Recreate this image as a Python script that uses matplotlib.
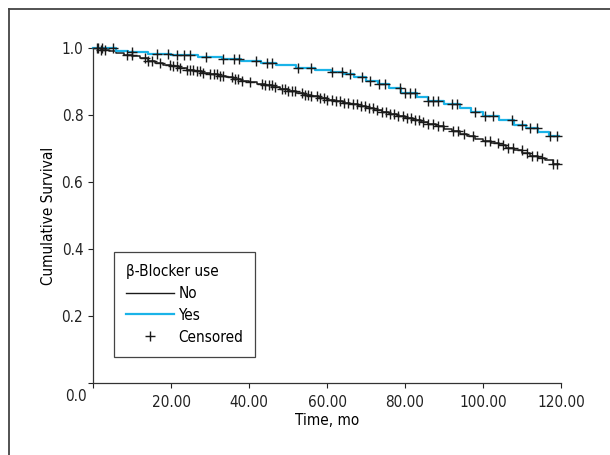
import numpy as np
import matplotlib.pyplot as plt
from matplotlib.lines import Line2D

plt.rcParams['font.family'] = ['Liberation Sans Narrow', 'DejaVu Sans']
plt.rcParams['font.stretch'] = 'condensed'

# Kaplan-Meier steps (time in months, survival after the step)
no_times = [2, 4, 6, 8, 10, 12, 14, 16, 18, 20, 22, 24, 26, 28, 30, 32, 34, 36, 38, 40,
            42, 44, 46, 48, 50, 52, 54, 56, 58, 60, 62, 64, 66, 68, 70, 72, 74, 76, 78, 80,
            82, 84, 86, 88, 90, 92, 94, 96, 98, 100, 102, 104, 106, 108, 110, 112, 114,
            116, 118]
no_surv = [0.995, 0.990, 0.985, 0.980, 0.975, 0.969, 0.962, 0.955, 0.950, 0.945,
           0.940, 0.935, 0.930, 0.926, 0.921, 0.916, 0.912, 0.907, 0.902, 0.898,
           0.893, 0.889, 0.884, 0.879, 0.873, 0.866, 0.861, 0.856, 0.851, 0.846,
           0.841, 0.837, 0.832, 0.826, 0.821, 0.815, 0.809, 0.802, 0.796, 0.791,
           0.785, 0.779, 0.773, 0.766, 0.759, 0.752, 0.744, 0.736, 0.729, 0.722,
           0.715, 0.709, 0.702, 0.695, 0.688, 0.679, 0.672, 0.665, 0.655]
no_censored = [0.9, 2.0, 3.1, 8.6, 9.9, 13.3, 14.2, 15.0, 17.2, 19.7, 20.6, 21.5, 22.3,
               24.0, 24.9, 25.7, 26.6, 27.4, 28.3, 30.0, 30.9, 31.7, 32.6, 33.4, 35.6,
               36.5, 37.3, 38.1, 40.3, 43.2, 44.1, 45.0, 45.8, 46.7, 48.4, 49.2, 50.1,
               50.9, 51.8, 53.5, 54.3, 55.2, 56.0, 57.4, 58.3, 59.1, 60.0, 61.2, 62.3,
               63.3, 64.4, 65.5, 66.6, 67.6, 68.6, 69.7, 70.8, 71.9, 72.9, 74.0, 75.1,
               76.2, 77.2, 78.3, 79.4, 80.4, 81.5, 82.6, 83.7, 84.7, 86.0, 87.3, 88.5,
               89.8, 92.4, 93.7, 95.0, 97.5, 100.5, 101.8, 103.9, 105.2, 106.5, 107.8,
               109.9, 111.2, 112.5, 113.8, 115.0, 118.0, 118.9]

yes_times = [6, 9, 14, 20, 27, 33, 38, 43, 47, 52, 57, 61, 64, 67, 70, 73, 76, 79, 83,
             86, 90, 94, 97, 100, 104, 108, 111, 114, 117]
yes_surv = [0.992, 0.987, 0.982, 0.978, 0.972, 0.968, 0.962, 0.955, 0.948, 0.941,
            0.935, 0.929, 0.922, 0.912, 0.902, 0.892, 0.880, 0.867, 0.853, 0.843,
            0.832, 0.820, 0.808, 0.796, 0.784, 0.771, 0.760, 0.748, 0.736]
yes_censored = [1.4, 2.2, 5.0, 9.9, 16.3, 19.3, 21.5, 23.2, 24.9, 29.0, 33.4, 36.1, 37.5,
                41.9, 44.5, 45.8, 52.6, 56.0, 61.2, 63.8, 65.9, 68.9, 71.0, 73.2, 74.9,
                78.7, 80.0, 81.3, 82.6, 86.0, 87.3, 88.5, 92.0, 93.3, 98.0, 100.5,
                102.6, 107.4, 110.0, 112.0, 113.8, 117.2, 118.9]

x_ticks = [0, 20, 40, 60, 80, 100, 120]
x_labels = ['', '20.00', '40.00', '60.00', '80.00', '100.00', '120.00']
y_ticks = [0.0, 0.2, 0.4, 0.6, 0.8, 1.0]
y_labels = ['', '0.2', '0.4', '0.6', '0.8', '1.0']

black = '#1a1a1a'
blue = '#1ab3e8'
fs = 11


def km_curve(times, surv, end):
    t = np.concatenate([[0], times, [end]])
    s = np.concatenate([[1.0], surv, [surv[-1]]])
    return t, s


def surv_at(times, surv, c):
    idx = np.searchsorted(times, c, side='right') - 1
    s = np.concatenate([[1.0], surv])
    return s[np.asarray(idx) + 1]


fig = plt.figure(figsize=(6.1, 4.55), dpi=100)
ax = fig.add_axes([0.1525, 0.1582, 0.7672, 0.7363])

t, s = km_curve(no_times, no_surv, 119.5)
ax.step(t, s, where='post', color=black, lw=1.1, clip_on=False)
t, s = km_curve(yes_times, yes_surv, 119.5)
ax.step(t, s, where='post', color=blue, lw=1.6, clip_on=False)

ax.plot(no_censored, surv_at(no_times, no_surv, no_censored), ls='none', marker='+',
        ms=7.5, mew=1.0, color=black, clip_on=False)
ax.plot(yes_censored, surv_at(yes_times, yes_surv, yes_censored), ls='none', marker='+',
        ms=7.5, mew=1.0, color=black, clip_on=False)

ax.set_xlim(0, 120)
ax.set_ylim(0, 1.0)
ax.set_xticks(x_ticks)
ax.set_xticklabels(x_labels)
ax.set_yticks(y_ticks)
ax.set_yticklabels(y_labels)
ax.text(-4.5, -0.04, '0.0', ha='center', va='center', fontsize=fs, color='#222222')
ax.tick_params(direction='out', length=3.5, width=0.8, labelsize=fs, colors='#222222')
ax.tick_params(axis='x', pad=5)
for side in ['top', 'right']:
    ax.spines[side].set_visible(False)
for side in ['left', 'bottom']:
    ax.spines[side].set_color('#333333')
    ax.spines[side].set_linewidth(0.9)

ax.set_xlabel('Time, mo', fontsize=fs, labelpad=2)
ax.set_ylabel('Cumulative Survival', fontsize=fs, labelpad=4)

handles = [Line2D([], [], color=black, lw=1.0),
           Line2D([], [], color=blue, lw=1.6),
           Line2D([], [], ls='none', marker='+', ms=7.5, mew=1.0, color=black)]
leg = ax.legend(handles, ['No', 'Yes', 'Censored'], title='\u03b2-Blocker use',
                loc='lower left', bbox_to_anchor=(0.045, 0.078), borderaxespad=0,
                fontsize=fs, title_fontsize=fs, handlelength=3.1, handletextpad=0.3,
                labelspacing=0.45, borderpad=0.8, fancybox=False, framealpha=1)
leg._legend_box.align = 'left'
leg.get_frame().set_edgecolor('#444444')
leg.get_frame().set_linewidth(0.9)

# frame lines at the left and top of the figure
fig.add_artist(Line2D([9 / 610, 9 / 610], [0, 1 - 9 / 455], transform=fig.transFigure,
                      color='#444444', lw=1.3))
fig.add_artist(Line2D([9 / 610, 1], [1 - 9 / 455, 1 - 9 / 455], transform=fig.transFigure,
                      color='#444444', lw=1.3))

plt.savefig('out.png', dpi=100)
